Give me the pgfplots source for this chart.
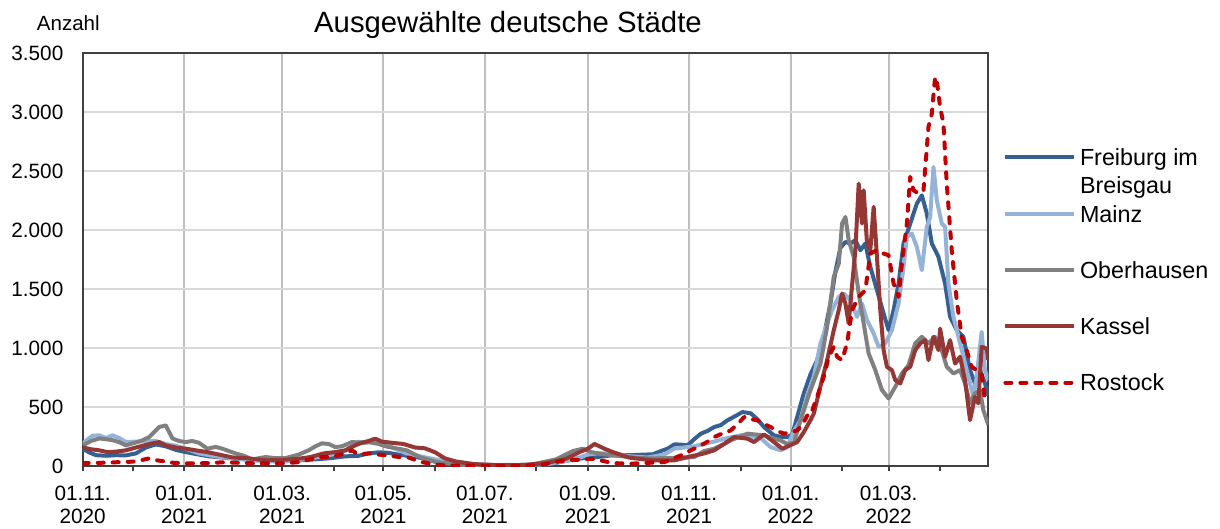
\documentclass[border=0pt]{standalone}
\usepackage{fontspec}
\setmainfont{Liberation Sans}
\usepackage{pgfplots}
\pgfplotsset{compat=1.18}

\definecolor{cFreiburg}{HTML}{376092}
\definecolor{cMainz}{HTML}{95B3D7}
\definecolor{cOberhausen}{HTML}{808080}
\definecolor{cKassel}{HTML}{953735}
\definecolor{cRostock}{HTML}{C00000}
\definecolor{gridv}{HTML}{BFBFBF}
\definecolor{gridh}{HTML}{D9D9D9}

% x = days since 01.11.2020
\begin{document}
\begin{tikzpicture}
\path[use as bounding box] (-41.35bp,-31.3bp) rectangle (568.65bp,233.2bp);
\begin{axis}[
    scale only axis,
    width=452.8bp,
    height=206.7bp,
    xmin=0, xmax=545,
    ymin=0, ymax=3500,
    axis line style={draw=black!75, line width=1bp},
    xtick={0,61,120,181,242,304,365,426,485},
    minor xtick={30,90,151,212,273,334,396,457,516},
    xticklabels={{01.11.\\2020},{01.01.\\2021},{01.03.\\2021},{01.05.\\2021},{01.07.\\2021},{01.09.\\2021},{01.11.\\2021},{01.01.\\2022},{01.03.\\2022}},
    ytick={0,500,...,3500},
    xtick pos=bottom, ytick pos=left,
    tick align=outside,
    major tick length=2.5bp, minor tick length=2.5bp,
    xtick style={draw=black!75, line width=1bp},
    minor x tick style={draw=black!75, line width=1bp},
    ytick style={draw=none},
    xmajorgrids, ymajorgrids,
    x grid style={gridv, line width=1bp},
    y grid style={gridh, line width=1bp},
    xticklabel style={font=\fontsize{10.4}{11.5}\selectfont, align=center, inner sep=0pt, yshift=-7.3bp},
    yticklabel style={font=\fontsize{10.4}{11.5}\selectfont, inner sep=0pt, xshift=-7bp,
        /pgf/number format/1000 sep={.}, /pgf/number format/assume math mode=true},
    title={Ausgewählte deutsche Städte},
    title style={at={(0.4696,1)}, anchor=base, yshift=4.5bp, inner sep=0pt, font=\fontsize{14.7}{16}\selectfont},
    legend cell align=left,
    legend style={at={(1,0.7717)}, anchor=north west, xshift=7.35bp, draw=none, fill=none,
        inner sep=0pt, row sep=16.15bp, column sep=1.8bp,
        cells={anchor=west},
        nodes={inner sep=0pt, text height=9bp, text depth=3bp, font=\fontsize{11.7}{13.8}\selectfont}},
    legend image code/.code={\draw[#1] (0bp,1.2bp) -- (34.5bp,1.2bp);},
    every axis plot/.append style={line width=2bp, line join=round},
    after end axis/.code={
        \node[anchor=base, inner sep=0pt, font=\fontsize{10.3}{12}\selectfont]
            at (rel axis cs:0,1) [xshift=-7.2bp, yshift=11.25bp] {Anzahl};
    },
]

\addplot[cFreiburg] coordinates {
(0,150)(4,118)(8,95)(14,90)(20,95)(26,93)(32,110)(38,160)(44,186)(50,170)(56,140)(62,121)(70,100)(76,85)(90,68)(105,51)(120,43)(135,55)(148,68)(158,85)(166,90)(172,110)(178,119)(184,115)(190,100)(198,85)(205,68)(212,40)(220,25)(230,15)(245,8)(260,8)(275,12)(285,30)(292,50)(300,68)(308,76)(318,93)(330,95)(338,100)(343,102)(348,130)(352,150)(356,186)(360,185)(364,178)(368,230)(372,277)(376,300)(380,333)(384,350)(388,390)(392,420)(397,460)(402,450)(406,400)(410,333)(416,263)(420,250)(424,248)(427,270)(430,420)(434,620)(438,780)(442,900)(446,1100)(450,1380)(453,1650)(456,1850)(459,1900)(462,1887)(465,1915)(468,1830)(471,1887)(474,1689)(478,1492)(482,1294)(485,1153)(488,1323)(491,1548)(494,1887)(498,2056)(502,2225)(505,2295)(508,2140)(511,1887)(515,1774)(519,1548)(522,1266)(526,1153)(530,1097)(534,815)(537,702)(540,815)(543,702)(545,600)
};
\addlegendentry{\begin{tabular}[t]{@{}l@{}}Freiburg im\\Breisgau\end{tabular}}

\addplot[cMainz] coordinates {
(0,190)(3,230)(6,260)(10,263)(14,240)(18,263)(22,240)(26,206)(32,210)(38,215)(44,215)(50,190)(56,175)(62,150)(70,110)(80,85)(90,70)(100,55)(110,45)(120,40)(130,55)(140,75)(150,100)(158,130)(163,190)(166,209)(170,200)(176,210)(182,190)(188,150)(195,110)(205,80)(212,60)(225,40)(235,20)(250,12)(265,12)(280,20)(292,50)(300,80)(304,100)(308,110)(315,110)(322,100)(330,85)(340,75)(350,100)(356,150)(362,160)(368,170)(374,192)(380,210)(388,240)(396,263)(402,250)(408,240)(414,164)(420,136)(424,164)(428,300)(432,390)(436,600)(440,760)(444,1041)(448,1210)(451,1323)(455,1435)(458,1464)(462,1407)(466,1266)(469,1379)(472,1238)(476,1125)(479,1012)(483,1041)(487,1153)(491,1379)(494,1689)(496,1943)(499,1971)(502,1858)(505,1661)(508,2028)(510,2112)(512,2535)(514,2253)(517,2056)(519,2028)(521,1548)(524,1266)(528,1041)(532,815)(536,589)(538,759)(541,1139)(543,815)(545,730)
};
\addlegendentry{Mainz}

\addplot[cOberhausen] coordinates {
(0,178)(5,215)(10,237)(14,230)(18,222)(22,205)(26,178)(30,195)(35,215)(40,248)(43,290)(46,333)(50,347)(54,237)(58,215)(62,206)(66,215)(70,200)(75,150)(80,165)(84,150)(88,130)(92,110)(97,90)(102,59)(110,79)(116,70)(122,70)(130,100)(136,136)(140,170)(144,195)(148,190)(152,164)(156,170)(162,206)(168,200)(172,206)(178,190)(184,164)(190,150)(195,136)(203,79)(213,36)(227,14)(240,8)(255,8)(270,15)(285,60)(295,130)(301,150)(306,121)(315,100)(325,85)(335,70)(345,68)(355,72)(362,76)(368,79)(374,130)(380,150)(386,190)(390,220)(395,250)(400,277)(405,270)(410,263)(415,240)(420,220)(424,190)(428,200)(432,392)(438,646)(444,871)(448,1182)(452,1605)(455,1717)(457,2056)(459,2112)(461,1915)(464,1774)(467,1464)(470,1210)(473,956)(477,815)(481,646)(485,575)(489,674)(493,787)(497,857)(501,1041)(505,1097)(509,1041)(513,1097)(517,984)(520,843)(524,787)(528,815)(531,702)(534,533)(537,618)(540,646)(542,477)(545,350)
};
\addlegendentry{Oberhausen}

\addplot[cKassel] coordinates {
(0,161)(5,145)(10,136)(15,121)(20,125)(26,136)(32,160)(37,178)(42,195)(46,206)(50,178)(56,160)(62,150)(68,136)(75,121)(82,100)(90,76)(100,68)(110,51)(120,55)(130,65)(137,79)(145,110)(152,121)(158,136)(164,178)(168,200)(172,215)(176,235)(180,210)(186,200)(193,190)(200,160)(206,153)(212,120)(218,68)(225,40)(235,20)(250,10)(265,12)(279,28)(291,65)(299,121)(304,150)(308,190)(314,150)(319,121)(329,74)(343,51)(356,51)(366,85)(374,110)(380,136)(386,190)(392,248)(400,235)(404,206)(410,271)(416,206)(421,150)(426,180)(430,206)(434,291)(438,392)(440,447)(444,680)(448,900)(452,1153)(455,1323)(457,1464)(459,1379)(461,1210)(462,1379)(465,1830)(467,2394)(469,2056)(470,2338)(472,1887)(474,1830)(476,2197)(478,1774)(480,1323)(482,984)(484,843)(487,815)(489,730)(492,702)(495,815)(498,843)(501,984)(504,1041)(507,1069)(509,900)(512,1097)(515,984)(516,1167)(519,928)(522,1069)(525,871)(528,928)(531,730)(534,392)(537,589)(539,533)(541,1012)(544,998)(545,900)
};
\addlegendentry{Kassel}

\addplot[cRostock, line cap=round, dash pattern=on 3bp off 4.5bp] coordinates {
(0,28)(10,30)(20,35)(30,40)(36,55)(40,68)(45,51)(55,30)(65,25)(75,28)(85,35)(95,30)(105,25)(120,25)(130,36)(137,60)(142,79)(150,80)(158,110)(162,136)(166,100)(172,110)(178,100)(184,93)(190,80)(196,76)(203,40)(212,15)(220,8)(240,5)(260,5)(275,10)(282,30)(290,50)(300,57)(306,65)(312,50)(319,28)(330,23)(340,30)(350,36)(360,93)(365,130)(370,164)(375,200)(380,248)(385,280)(390,305)(395,370)(398,418)(402,400)(406,390)(410,360)(414,333)(418,300)(422,277)(426,290)(430,305)(433,350)(436,430)(438,434)(442,589)(446,760)(449,928)(452,1012)(454,928)(457,900)(460,1041)(463,1323)(467,1435)(471,1492)(474,1802)(478,1830)(482,1802)(485,1788)(488,1548)(491,1435)(493,1717)(496,2056)(498,2451)(500,2338)(503,2310)(506,2338)(509,2874)(511,2986)(513,3297)(514,3268)(516,3043)(518,2902)(520,2394)(523,1830)(526,1407)(529,1097)(532,984)(535,843)(538,815)(541,787)(543,561)(545,561)
};
\addlegendentry{Rostock}
\end{axis}
\end{tikzpicture}
\end{document}
